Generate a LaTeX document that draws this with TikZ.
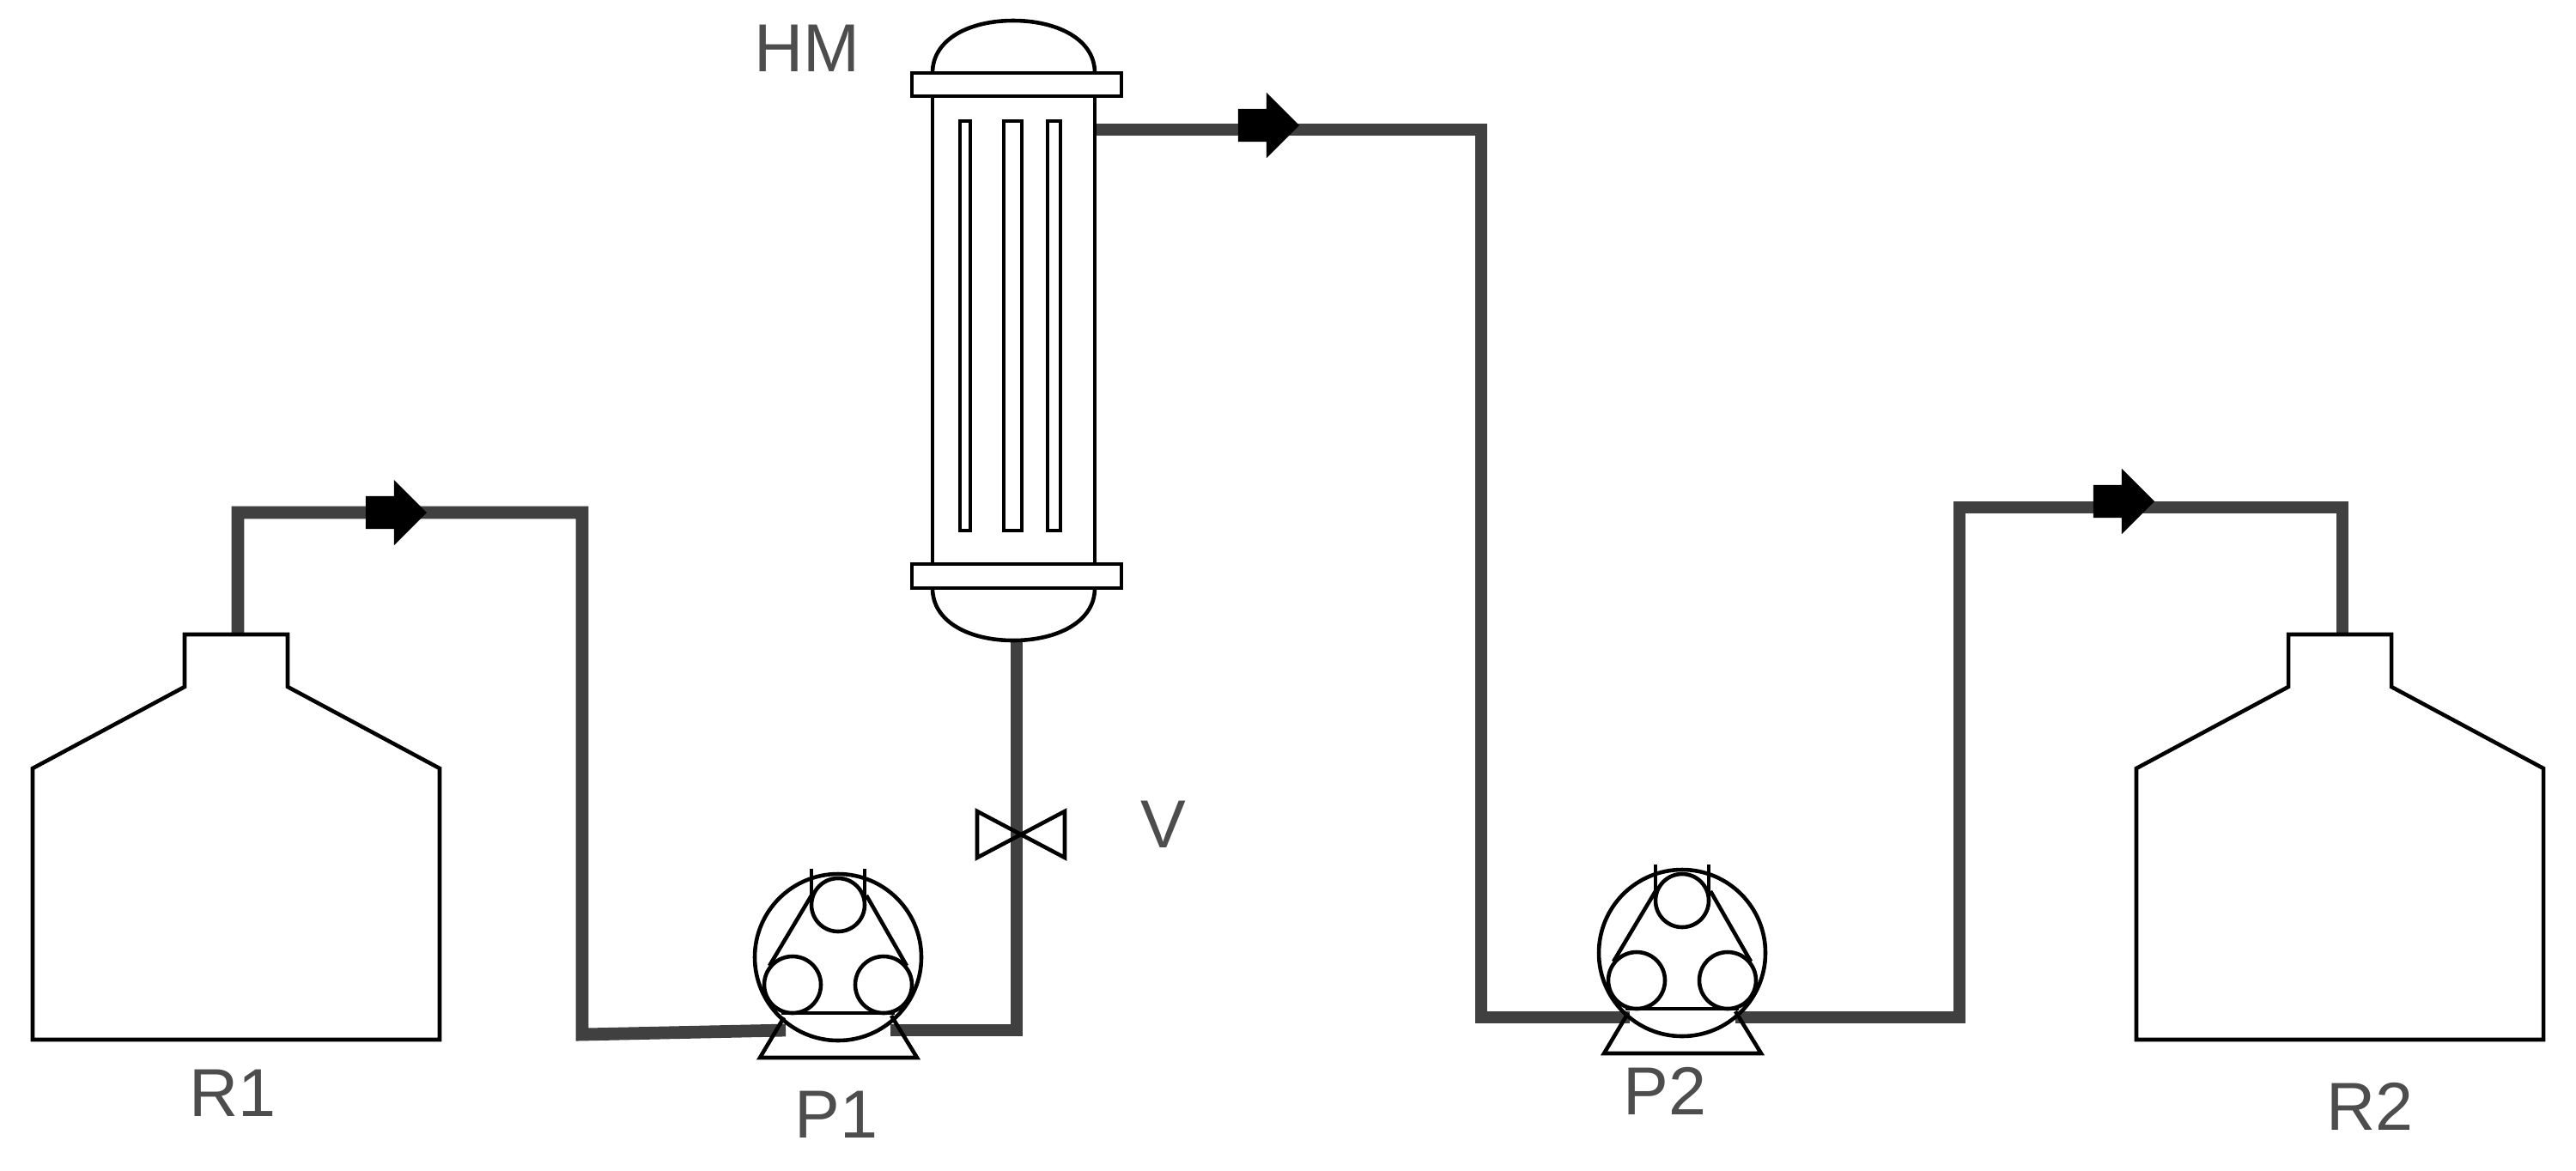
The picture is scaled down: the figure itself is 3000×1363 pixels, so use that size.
\documentclass[tikz,border=0pt]{standalone}
\usepackage{fontspec}
\setmainfont{Liberation Sans}
\usepackage{xcolor}
\usetikzlibrary{shapes.arrows}
\definecolor{pipegray}{HTML}{404040}
\definecolor{labelgray}{HTML}{4D4D4D}
\tikzset{
	unit/.style={line width=1.3pt, black},
	pipe/.style={line width=4.2pt, pipegray},
	label/.style={text=labelgray, anchor=base, inner sep=0pt, font=\fontsize{22.5}{26}\selectfont},
	flow/.style={single arrow, fill=black, draw=none, inner xsep=0pt, inner ysep=0.185cm, anchor=tip,
			minimum height=0.71cm, single arrow head extend=0.19cm},
	pump/.pic={
			\draw[unit] (0,0) circle[radius=97];
			\draw[unit] (0,-61) circle[radius=31];
			\draw[unit] (-53,32) circle[radius=33];
			\draw[unit] (53,32) circle[radius=33];
			\draw[unit] (-31,-103) -- (-31,-61);
			\draw[unit] (31,-103) -- (31,-61);
			\draw[unit] (-31,-72) -- (-80,10);
			\draw[unit] (33,-72) -- (80,10);
			\draw[unit] (-66,65) -- (66,65);
			\draw[unit] (-63,70) -- (-91,117) -- (92,117) -- (62,68);
		},
	bottle/.pic={
			\draw[unit] (-60,0) -- (60,0) -- (60,61) -- (237,156) -- (237,472)
				-- (-237,472) -- (-237,156) -- (-60,61) -- cycle;
		}
}

\begin{document}
\begin{tikzpicture}[x=0.01cm, y=-0.01cm]
	\useasboundingbox (0,0) rectangle (3000,1363);

	% junctions of the lines
	\coordinate (R1out) at (277,739);
	\coordinate (bendA) at (678,597);
	\coordinate (bendB) at (678,1205);
	\coordinate (P1in) at (915,1200);
	\coordinate (P1out) at (1037,1200);
	\coordinate (HMin) at (1184,746);
	\coordinate (HMout) at (1275,151);
	\coordinate (bendC) at (1725,151);
	\coordinate (P2in) at (1898,1185);
	\coordinate (P2out) at (2021,1185);
	\coordinate (bendD) at (2282,591);
	\coordinate (R2in) at (2728,739);

	\draw[pipe] (R1out) |- (bendA) -- (bendB) -- (P1in);
	\draw[pipe] (P1out) -| (HMin);
	\draw[pipe] (HMout) -- (bendC) |- (P2in);
	\draw[pipe] (P2out) -| (bendD) -| (R2in);

	\node[flow] (flowA) at (498,597) {};
	\node[flow] (flowB) at (1514,146) {};
	\node[flow] (flowC) at (2510,584) {};

	% reservoirs and pumps
	\pic (R1) at (275,739) {bottle};
	\pic (R2) at (2725,739) {bottle};
	\pic (P1) at (976,1115) {pump};
	\pic (P2) at (1959,1110) {pump};

	% valve
	\draw[unit] (1189,972) -- (1138,945) -- (1138,999) -- cycle;
	\draw[unit] (1189,972) -- (1240,945) -- (1240,999) -- cycle;

	% membrane module
	\draw[unit] (1086,85) .. controls (1086,45) and (1130,24) .. (1180,24)
		.. controls (1230,24) and (1275,45) .. (1275,85);
	\draw[unit] (1086,685) .. controls (1086,725) and (1130,746) .. (1180,746)
		.. controls (1230,746) and (1275,725) .. (1275,685);
	\draw[unit] (1086,112) -- (1086,657);
	\draw[unit] (1275,112) -- (1275,657);
	\draw[unit] (1062,85) rectangle (1306,112);
	\draw[unit] (1062,657) rectangle (1306,685);
	\draw[unit] (1118,141) rectangle (1130,618);
	\draw[unit] (1169,141) rectangle (1190,618);
	\draw[unit] (1220,141) rectangle (1235,618);

	\node[label] (HM) at (940,83) {HM};
	\node[label] (V) at (1355,987) {V};
	\node[label] (nameR1) at (271,1300) {R1};
	\node[label] (nameP1) at (974,1325) {P1};
	\node[label] (nameP2) at (1939,1298) {P2};
	\node[label] (nameR2) at (2760,1316) {R2};
\end{tikzpicture}
\end{document}
